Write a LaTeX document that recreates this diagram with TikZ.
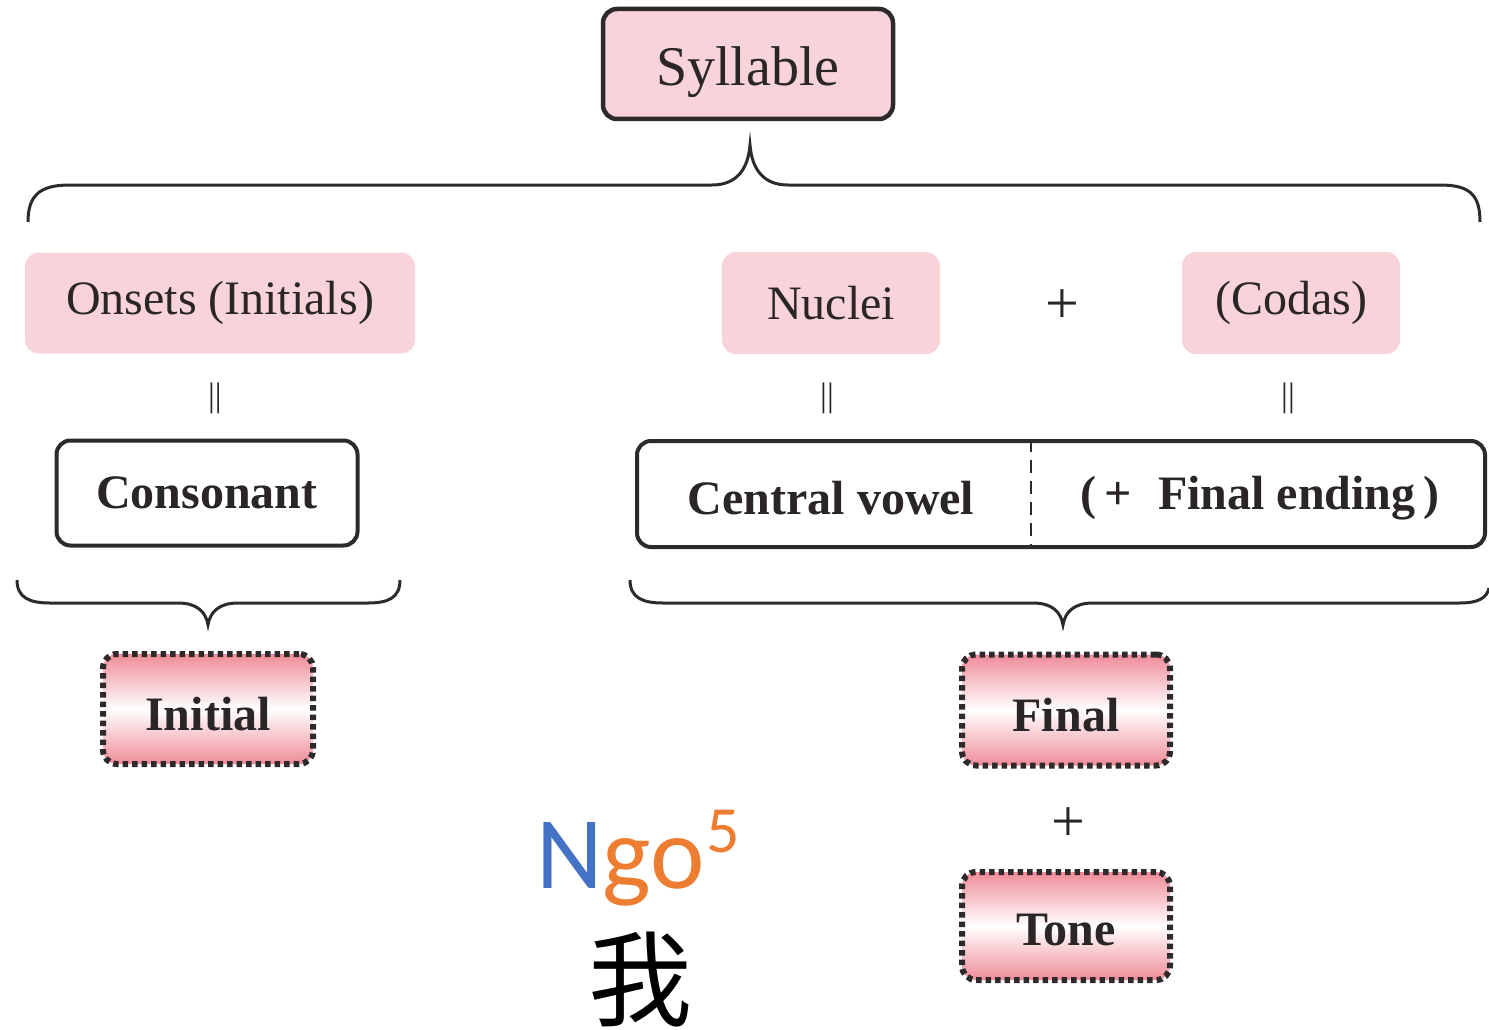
\documentclass[tikz,border=0pt]{standalone}
\usepackage{fontspec}
\newfontfamily\tms{Liberation Serif}
\newfontfamily\calib{Carlito}
\newfontfamily\cjk{Noto Sans CJK SC}
\definecolor{boxpink}{HTML}{F8D3D9}
\definecolor{gradpink}{HTML}{EF8C98}
\definecolor{edge}{HTML}{2E2A2B}
\definecolor{nblue}{HTML}{4472C4}
\definecolor{norange}{HTML}{ED7D31}
\definecolor{txt}{HTML}{2A2526}
\tikzset{
  x=1pt, y=-1pt,
  basebox/.style={rounded corners=14pt, inner sep=0pt, text=txt, font=\tms\fontsize{48}{56}\selectfont},
  pinkbox/.style={basebox, fill=boxpink},
  framebox/.style={basebox, draw=edge, line width=4pt, fill=white, font=\tms\fontsize{48}{56}\selectfont\bfseries},
  gradbox/.style={basebox, draw=edge, line width=6pt, dash pattern=on 5.5pt off 4pt,
     top color=gradpink, bottom color=gradpink, middle color=white, font=\tms\fontsize{48}{56}\selectfont\bfseries,
     text depth=0pt},
  bracestyle/.style={draw=edge, line width=3pt},
  boldtext/.style={inner sep=0pt, text=txt, font=\tms\fontsize{48}{56}\selectfont\bfseries},
  eqsign/.style={inner sep=0pt, text=txt, font=\tms\fontsize{34}{34}\selectfont},
  plussign/.style={inner sep=0pt, text=txt, font=\tms\fontsize{60}{60}\selectfont},
}
\begin{document}
\begin{tikzpicture}
\useasboundingbox (0,0) rectangle (1489,1030);
\fill[white] (0,0) rectangle (1489,1030);

% top
\node[basebox, draw=edge, line width=4.5pt, fill=boxpink, minimum width=290pt, minimum height=110pt,
      font=\tms\fontsize{56}{64}\selectfont, text height=44pt, text depth=0pt] (syl) at (748,64) {Syllable};

% top brace
\coordinate (tb) at (750,145);
\draw[bracestyle] (28,222) .. controls (28,195) and (40,185) .. (70,185) -- (712,185)
   .. controls (736,185) and (748,170) .. (tb)
   .. controls (752,170) and (764,185) .. (788,185) -- (1440,185)
   .. controls (1470,185) and (1480,195) .. (1480,222);

% second row
\node[pinkbox, minimum width=390pt, minimum height=101pt] (ons) at (220,303) {Onsets (Initials)};
\node[pinkbox, minimum width=218pt, minimum height=102pt] (nuc) at (831,303) {Nuclei};
\node[plussign] (p1) at (1062,307) {+};
\node[pinkbox, minimum width=218pt, minimum height=102pt] (cod) at (1291,303) {(Codas)};

\node[eqsign] (e1) at (215,398) {||};
\node[eqsign] (e2) at (827,398) {||};
\node[eqsign] (e3) at (1288,398) {||};

% third row
\node[framebox, minimum width=301pt, minimum height=105pt] (con) at (207,493) {Consonant};
\node[framebox, minimum width=848pt, minimum height=106pt] (fin) at (1061,494) {};
\draw[edge, line width=2.5pt, dash pattern=on 13pt off 8pt] (fin.north -| 1031,0) -- (fin.south -| 1031,0);
\node[boldtext] (cv) at (831,498) {Central vowel};
\node[boldtext, anchor=west] (fe) at (1080,498) {(\,+\;\;Final ending\,)};

% bottom braces
\coordinate (lb) at (208,625);
\draw[bracestyle] (17,580) .. controls (17,598) and (30,603) .. (50,603) -- (178,603)
   .. controls (197,603) and (206,612) .. (lb)
   .. controls (210,612) and (219,603) .. (238,603) -- (368,603)
   .. controls (388,603) and (400,598) .. (400,580);
\coordinate (rb) at (1063,625);
\draw[bracestyle] (630,580) .. controls (630,598) and (643,603) .. (663,603) -- (1033,603)
   .. controls (1052,603) and (1061,612) .. (rb)
   .. controls (1065,612) and (1074,603) .. (1093,603) -- (1460,603)
   .. controls (1478,603) and (1487,598) .. (1489,588);

% bottom boxes
\node[gradbox, minimum width=210pt, minimum height=110pt, text height=42pt] (ini) at (208,709) {Initial};
\node[gradbox, minimum width=208pt, minimum height=111pt, text height=42pt] (fnl) at (1066,710) {Final};
\node[plussign] (p2) at (1068,825) {+};
\node[gradbox, minimum width=208pt, minimum height=108pt, text height=38pt] (ton) at (1066,926) {Tone};

% Ngo5 and character
\node[anchor=base west, inner sep=0pt, font=\calib\fontsize{103}{110}\selectfont] (ngo) at (536,888)
  {\textcolor{nblue}{N}\textcolor{norange}{go\kern2pt\raisebox{36pt}{\fontsize{66}{66}\selectfont 5}}};
\node[inner sep=0pt, font=\cjk\fontsize{104}{106}\selectfont] (wo) at (640,980) {我};
\end{tikzpicture}
\end{document}
